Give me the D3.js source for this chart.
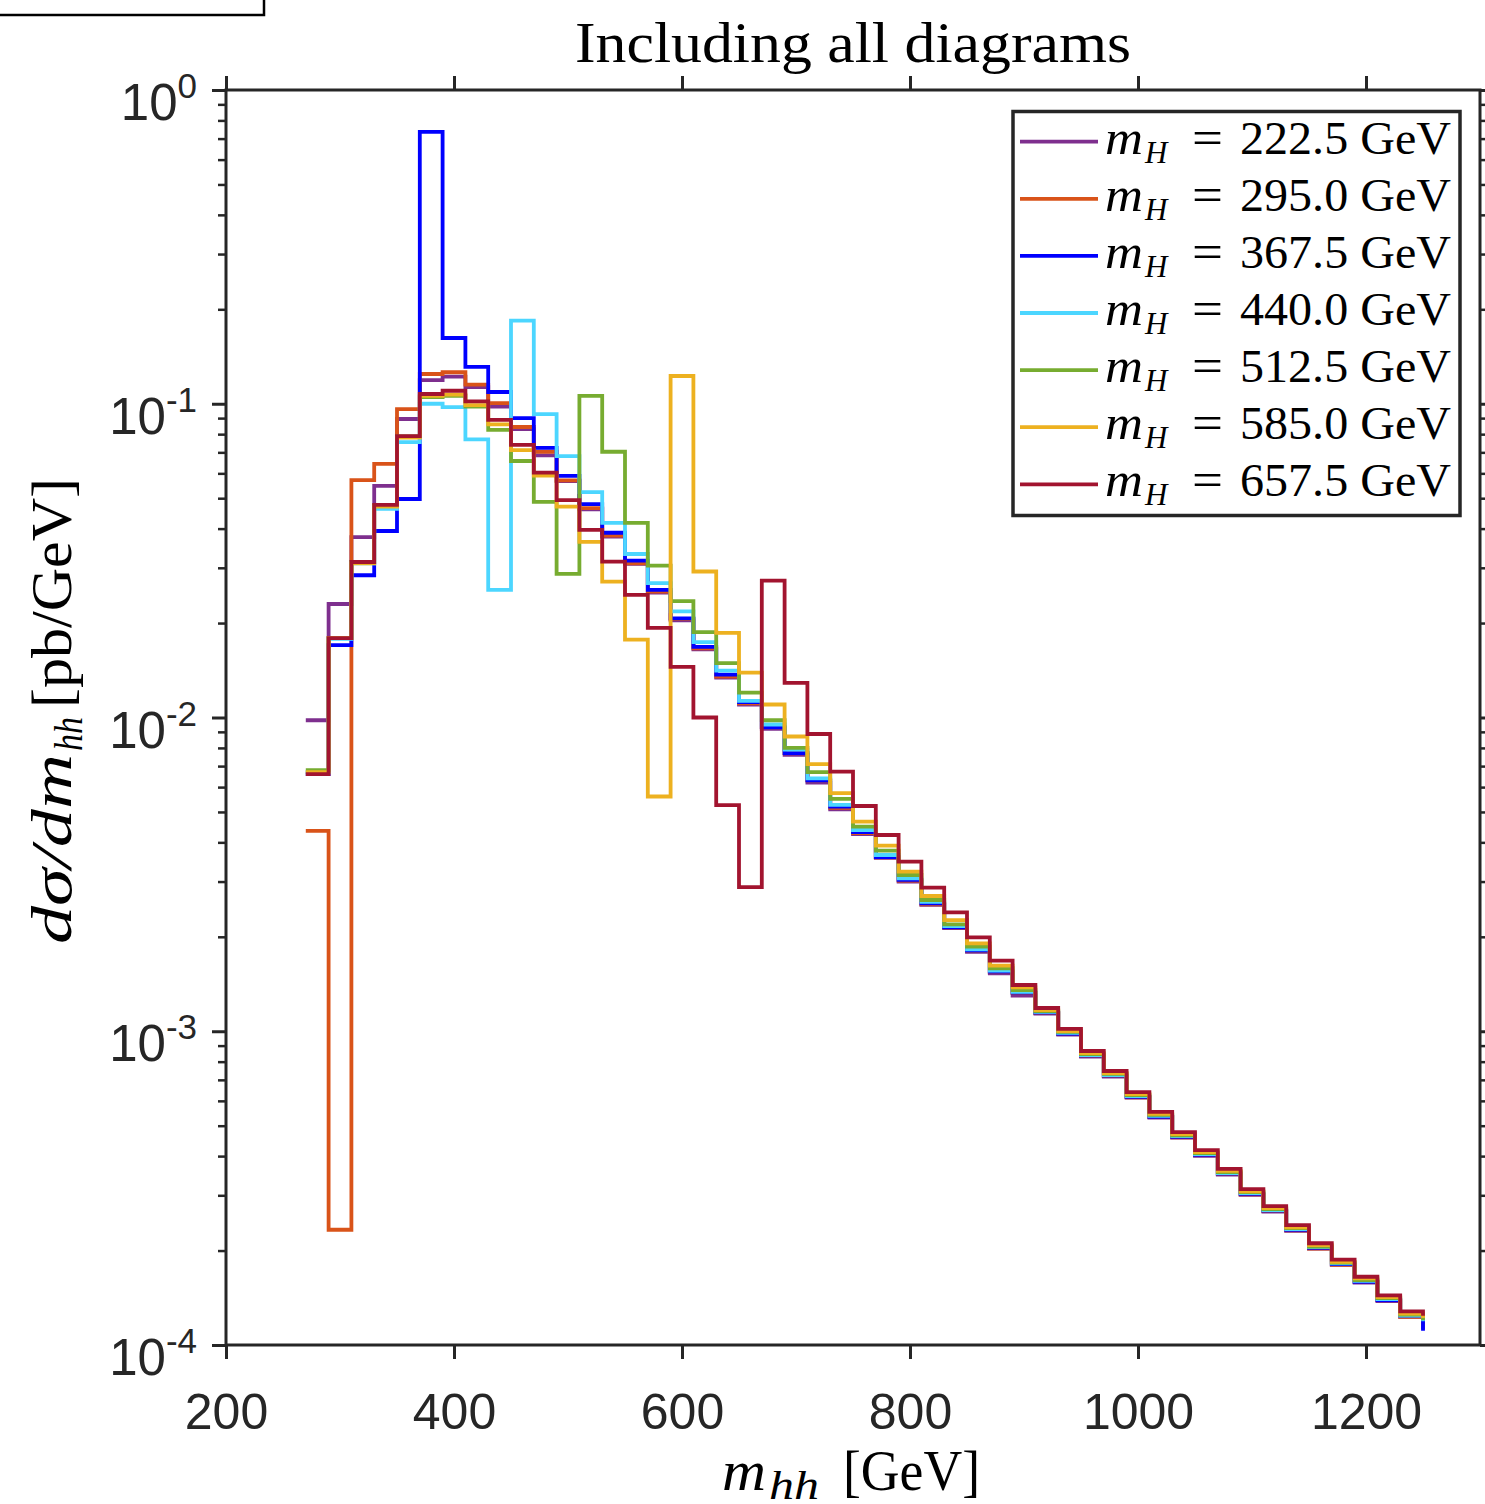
<!DOCTYPE html>
<html>
<head>
<meta charset="utf-8">
<script src="https://cdn.jsdelivr.net/npm/d3@7"></script>
<style>
  body { margin: 0; background: #fff; }
  svg { display: block; }
</style>
</head>
<body>
<div id="vis"></div>
<script>
// Frame and plot box (pixel edges of the axes box)
const FRAME_WIDTH = 1485;
const FRAME_HEIGHT = 1504;
const PLOT = {left: 226, right: 1480, top: 90, bottom: 1345};
const AXIS_COLOR = "#262626";

// Bin edges of the m_hh histograms [GeV] (stairs: value i drawn from edge i to edge i+1)
const BIN_EDGES = [270, 290, 310, 330, 350, 370, 390, 410, 430, 450, 470, 490, 510, 530, 550,
  570, 590, 610, 630, 650, 670, 690, 710, 730, 750, 770, 790, 810, 830, 850, 870, 890, 910,
  930, 950, 970, 990, 1010, 1030, 1050, 1070, 1090, 1110, 1130, 1150, 1170, 1190, 1210, 1230, 1250];

// dsigma/dm_hh [pb/GeV], one array per heavy Higgs mass
const MH_222_5 = [0.0098, 0.023, 0.0376, 0.0547, 0.0894, 0.119, 0.122, 0.113, 0.098, 0.083,
  0.0685, 0.0567, 0.0461, 0.0377, 0.0309, 0.025, 0.0204, 0.0165, 0.0134, 0.0110, 0.0092, 0.0076,
  0.0062, 0.0051, 0.00425, 0.00357, 0.0030, 0.00253, 0.00213, 0.00179, 0.00153, 0.0013,
  0.001139, 0.000976, 0.00083, 0.000717, 0.000614, 0.000531, 0.000458, 0.000401, 0.000349,
  0.000301, 0.000266, 0.000231, 0.000203, 0.00018, 0.000158, 0.000138, 0.000123, 0.000112];
const MH_295_0 = [0.00435, 0.000233, 0.0571, 0.0643, 0.0962, 0.1244, 0.126, 0.115, 0.1005, 0.0843,
  0.0703, 0.057, 0.0465, 0.038, 0.031, 0.0252, 0.0206, 0.0166, 0.0135, 0.0111, 0.0093, 0.0077,
  0.0063, 0.00515, 0.004285, 0.00358, 0.00302, 0.00254, 0.00214, 0.0018, 0.001545, 0.001324,
  0.001142, 0.000979, 0.000833, 0.000719, 0.000616, 0.000533, 0.000459, 0.000403, 0.000351,
  0.000302, 0.000267, 0.000232, 0.000203, 0.00018, 0.000159, 0.000139, 0.000123, 0.000115];
const MH_367_5 = [0.0066, 0.017, 0.0284, 0.0393, 0.0497, 0.735, 0.162, 0.131, 0.109, 0.090,
  0.0723, 0.0589, 0.0479, 0.0388, 0.0316, 0.0255, 0.0207, 0.0168, 0.0137, 0.0112, 0.0093, 0.0077,
  0.0063, 0.0052, 0.004316, 0.003592, 0.003035, 0.002557, 0.002144, 0.001806, 0.001548, 0.001327,
  0.001146, 0.000982, 0.000836, 0.000722, 0.000618, 0.000534, 0.000461, 0.000404, 0.000352,
  0.000303, 0.000268, 0.000233, 0.000204, 0.000181, 0.000159, 0.000139, 0.000124, 0.000111];
const MH_440_0 = [0.0067, 0.0178, 0.031, 0.0462, 0.0755, 0.100, 0.0975, 0.077, 0.0255, 0.184,
  0.0927, 0.0681, 0.0523, 0.0417, 0.0332, 0.0268, 0.0218, 0.0174, 0.0141, 0.0113, 0.0095, 0.0079,
  0.0064, 0.00527, 0.004379, 0.003645, 0.003073, 0.002587, 0.002165, 0.001824, 0.00156, 0.001336,
  0.001152, 0.000988, 0.00084, 0.000725, 0.000621, 0.000537, 0.000463, 0.000406, 0.000353,
  0.000305, 0.000269, 0.000234, 0.000205, 0.000182, 0.00016, 0.00014, 0.000124, 0.000119];
const MH_512_5 = [0.0068, 0.0179, 0.0313, 0.0473, 0.0787, 0.105, 0.106, 0.098, 0.0825, 0.0657,
  0.0487, 0.0287, 0.106, 0.0703, 0.0417, 0.0305, 0.0235, 0.0187, 0.0149, 0.0120, 0.0098, 0.0080,
  0.0067, 0.0055, 0.004487, 0.003762, 0.003148, 0.00262, 0.002192, 0.00186, 0.001588, 0.001353,
  0.00116, 0.000995, 0.000846, 0.000731, 0.000626, 0.000541, 0.000466, 0.000409, 0.000356,
  0.000307, 0.000271, 0.000236, 0.000206, 0.000183, 0.000161, 0.000141, 0.000125, 0.00012];
const MH_585_0 = [0.0067, 0.0179, 0.031, 0.047, 0.078, 0.106, 0.107, 0.099, 0.086, 0.0712,
  0.059, 0.047, 0.0363, 0.0271, 0.0177, 0.0056, 0.1226, 0.0292, 0.0186, 0.0139, 0.011, 0.0087,
  0.0071, 0.00574, 0.004654, 0.003903, 0.003225, 0.002698, 0.002262, 0.001906, 0.001618, 0.00138,
  0.001168, 0.001002, 0.000852, 0.000736, 0.00063, 0.000545, 0.00047, 0.000412, 0.000359,
  0.000309, 0.000273, 0.000237, 0.000208, 0.000184, 0.000163, 0.000142, 0.000126, 0.000122];
const MH_657_5 = [0.0066, 0.0179, 0.0313, 0.0476, 0.0789, 0.1074, 0.110, 0.1017, 0.0888, 0.074,
  0.0603, 0.0493, 0.0396, 0.0314, 0.0246, 0.0193, 0.0145, 0.0100, 0.00526, 0.00288, 0.0273, 0.0129,
  0.00886, 0.00672, 0.005223, 0.004222, 0.00347, 0.002868, 0.002393, 0.001992, 0.001679, 0.001404,
  0.001186, 0.001017, 0.000865, 0.000747, 0.00064, 0.000553, 0.000477, 0.000418, 0.000364,
  0.000314, 0.000277, 0.000241, 0.000211, 0.000187, 0.000165, 0.000144, 0.000128, 0.000124];

// Legend labels and line colours (MATLAB order)
const MH_LABELS = ["222.5", "295.0", "367.5", "440.0", "512.5", "585.0", "657.5"];
const COLORS = ["#7E2F8E", "#D95319", "#0000FF", "#4CD6FF", "#77AC30", "#EDB120", "#A2142F"];
const SERIES = [MH_222_5, MH_295_0, MH_367_5, MH_440_0, MH_512_5, MH_585_0, MH_657_5];

// Axis ticks
const X_TICKS = [200, 400, 600, 800, 1000, 1200];
const Y_MAJOR = [1e-4, 1e-3, 1e-2, 1e-1, 1];
const Y_EXPONENTS = ["-4", "-3", "-2", "-1", "0"];
const Y_MINOR = [2e-4, 3e-4, 4e-4, 5e-4, 6e-4, 7e-4, 8e-4, 9e-4,
                 2e-3, 3e-3, 4e-3, 5e-3, 6e-3, 7e-3, 8e-3, 9e-3,
                 2e-2, 3e-2, 4e-2, 5e-2, 6e-2, 7e-2, 8e-2, 9e-2,
                 0.2, 0.3, 0.4, 0.5, 0.6, 0.7, 0.8, 0.9];

const SANS = "'Liberation Sans', Arial, Helvetica, sans-serif";
const SERIF = "'Liberation Serif', 'Times New Roman', serif";
const LINE_W = 3.8;

// Create frame
const FRAME = d3.select("#vis")
  .append("svg")
    .attr("width", FRAME_WIDTH)
    .attr("height", FRAME_HEIGHT);

// Scales
const X_SCALE = d3.scaleLinear().domain([200, 1300]).range([PLOT.left, PLOT.right]);
const Y_SCALE = d3.scaleLog().domain([1e-4, 1]).range([PLOT.bottom, PLOT.top]);

// Cropped box in the top-left corner
FRAME.append("rect")
  .attr("x", -4).attr("y", -4).attr("width", 268).attr("height", 19)
  .attr("fill", "none").attr("stroke", "#000").attr("stroke-width", 2.5);

// Helper to style an axis group
function styleAxis(g, width) {
  g.select(".domain").remove();
  g.style("color", AXIS_COLOR);
  g.selectAll(".tick line").attr("stroke-width", width);
}

// Bottom x axis with labels
FRAME.append("g")
  .attr("transform", "translate(0," + PLOT.bottom + ")")
  .call(d3.axisBottom(X_SCALE).tickValues(X_TICKS).tickSize(14).tickSizeOuter(0)
        .tickPadding(34).tickFormat(d3.format("d")))
  .call((g) => styleAxis(g, 3))
  .attr("font-size", 50)
  .attr("font-family", SANS);

// Top x axis (ticks only)
FRAME.append("g")
  .attr("transform", "translate(0," + PLOT.top + ")")
  .call(d3.axisTop(X_SCALE).tickValues(X_TICKS).tickSize(14).tickSizeOuter(0).tickFormat(""))
  .call((g) => styleAxis(g, 3));

// Left and right y axes: major and minor ticks
FRAME.append("g")
  .attr("transform", "translate(" + PLOT.left + ",0)")
  .call(d3.axisLeft(Y_SCALE).tickValues(Y_MAJOR).tickSize(14).tickSizeOuter(0).tickFormat(""))
  .call((g) => styleAxis(g, 3));
FRAME.append("g")
  .attr("transform", "translate(" + PLOT.left + ",0)")
  .call(d3.axisLeft(Y_SCALE).tickValues(Y_MINOR).tickSize(8).tickSizeOuter(0).tickFormat(""))
  .call((g) => styleAxis(g, 2.5));
FRAME.append("g")
  .attr("transform", "translate(" + PLOT.right + ",0)")
  .call(d3.axisRight(Y_SCALE).tickValues(Y_MAJOR).tickSize(14).tickSizeOuter(0).tickFormat(""))
  .call((g) => styleAxis(g, 3));
FRAME.append("g")
  .attr("transform", "translate(" + PLOT.right + ",0)")
  .call(d3.axisRight(Y_SCALE).tickValues(Y_MINOR).tickSize(8).tickSizeOuter(0).tickFormat(""))
  .call((g) => styleAxis(g, 2.5));

// y tick labels as 10^n
const yLabels = FRAME.append("g")
  .attr("font-family", SANS)
  .attr("fill", AXIS_COLOR);
Y_MAJOR.forEach((v, i) => {
  const t = yLabels.append("text")
    .attr("x", 197)
    .attr("y", Y_SCALE(v) + 30)
    .attr("text-anchor", "end")
    .attr("font-size", 51);
  t.append("tspan").text("10");
  t.append("tspan").attr("font-size", 35).attr("dy", -22).text(Y_EXPONENTS[i]);
});

// Histogram stairs, drawn in legend order so the last mass sits on top
const stairs = d3.line()
  .x((d) => X_SCALE(d[0]))
  .y((d) => Y_SCALE(d[1]))
  .curve(d3.curveStepAfter);

FRAME.append("g")
  .selectAll("path")
  .data(SERIES)
  .enter()
  .append("path")
    .attr("d", (vals) => stairs(BIN_EDGES.map((e, i) => [e, vals[i]])))
    .attr("fill", "none")
    .attr("stroke", (d, i) => COLORS[i])
    .attr("stroke-width", LINE_W)
    .attr("stroke-linejoin", "miter");

// Axes box
FRAME.append("rect")
  .attr("x", PLOT.left).attr("y", PLOT.top)
  .attr("width", PLOT.right - PLOT.left).attr("height", PLOT.bottom - PLOT.top)
  .attr("fill", "none").attr("stroke", AXIS_COLOR).attr("stroke-width", 3);

// Title
FRAME.append("text")
  .attr("x", 853).attr("y", 62)
  .attr("text-anchor", "middle")
  .attr("font-family", SERIF).attr("font-size", 58)
  .attr("textLength", 556).attr("lengthAdjust", "spacingAndGlyphs")
  .text("Including all diagrams");

// x axis label: m_hh [GeV]
const xLab = FRAME.append("g").attr("font-family", SERIF).attr("fill", "#000");
xLab.append("text").attr("x", 722).attr("y", 1490).attr("font-size", 56)
  .attr("font-style", "italic").attr("textLength", 44)
  .attr("lengthAdjust", "spacingAndGlyphs").text("m");
xLab.append("text").attr("x", 769).attr("y", 1499).attr("font-size", 40)
  .attr("font-style", "italic").attr("textLength", 50)
  .attr("lengthAdjust", "spacingAndGlyphs").text("hh");
xLab.append("text").attr("x", 843).attr("y", 1490).attr("font-size", 56)
  .attr("textLength", 137).attr("lengthAdjust", "spacingAndGlyphs").text("[GeV]");

// y axis label: dsigma/dm_hh [pb/GeV], rotated
const yLab = FRAME.append("g")
  .attr("transform", "translate(71,0) rotate(-90)")
  .attr("font-family", SERIF).attr("fill", "#000");
yLab.append("text").attr("x", -944).attr("y", 0).attr("font-size", 56)
  .attr("font-style", "italic").attr("textLength", 190)
  .attr("lengthAdjust", "spacingAndGlyphs").text("dσ/dm");
yLab.append("text").attr("x", -751).attr("y", 11).attr("font-size", 40)
  .attr("font-style", "italic").attr("textLength", 34)
  .attr("lengthAdjust", "spacingAndGlyphs").text("hh");
yLab.append("text").attr("x", -708).attr("y", 0).attr("font-size", 56)
  .attr("textLength", 230).attr("lengthAdjust", "spacingAndGlyphs").text("[pb/GeV]");

// Legend
const LEGEND = {x: 1013, y: 111.5, w: 447, h: 404, row0: 141.7, step: 57.1};
const legend = FRAME.append("g");
legend.append("rect")
  .attr("x", LEGEND.x).attr("y", LEGEND.y).attr("width", LEGEND.w).attr("height", LEGEND.h)
  .attr("fill", "#fff").attr("stroke", AXIS_COLOR).attr("stroke-width", 3.5);

const rows = legend.selectAll("g.row")
  .data(MH_LABELS)
  .enter()
  .append("g")
    .attr("class", "row")
    .attr("transform", (d, i) => "translate(0," + (LEGEND.row0 + i * LEGEND.step) + ")");

rows.append("line")
  .attr("x1", 1020).attr("x2", 1098).attr("y1", 0).attr("y2", 0)
  .attr("stroke", (d, i) => COLORS[i]).attr("stroke-width", LINE_W);
rows.append("text").attr("x", 1105).attr("y", 12)
  .attr("font-family", SERIF).attr("font-size", 48).attr("font-style", "italic")
  .attr("textLength", 38).attr("lengthAdjust", "spacingAndGlyphs").text("m");
rows.append("text").attr("x", 1145).attr("y", 21)
  .attr("font-family", SERIF).attr("font-size", 31).attr("font-style", "italic")
  .text("H");
rows.append("text").attr("x", 1192).attr("y", 12)
  .attr("font-family", SERIF).attr("font-size", 48)
  .attr("textLength", 31).attr("lengthAdjust", "spacingAndGlyphs").text("=");
rows.append("text").attr("x", 1240).attr("y", 12)
  .attr("font-family", SERIF).attr("font-size", 46)
  .attr("textLength", 211).attr("lengthAdjust", "spacingAndGlyphs")
  .text((d) => d + " GeV");
</script>
</body>
</html>
